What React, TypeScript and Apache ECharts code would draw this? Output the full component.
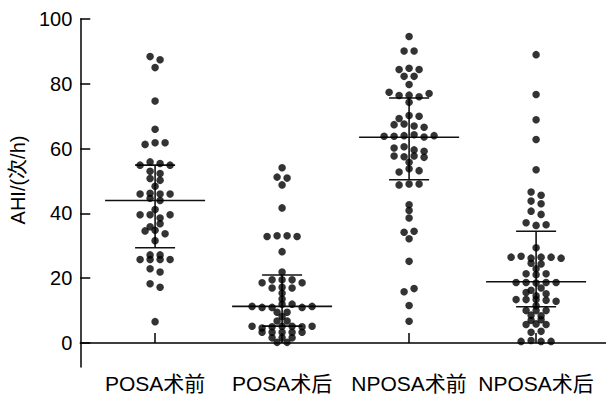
import React, { useEffect, useRef } from "react";
import * as echarts from "echarts";

const categories = ["POSA术前", "POSA术后", "NPOSA术前", "NPOSA术后"];

const posaPre = [88.4, 87.4, 85.0, 74.7, 66.0, 61.3, 61.8, 61.8, 54.9, 55.9, 55.4, 54.9, 53.0, 52.3, 50.8, 50.2, 48.4, 46.0, 46.2, 46.0, 46.0, 44.7, 44.0, 41.2, 39.6, 39.6, 38.6, 39.6, 35.9, 36.8, 34.6, 34.8, 33.7, 31.6, 27.2, 27.2, 25.8, 25.8, 25.8, 25.8, 22.9, 21.9, 18.3, 17.2, 6.6];
const posaPost = [54.1, 51.2, 50.9, 48.8, 41.7, 32.9, 33.1, 33.1, 32.9, 28.2, 21.9, 18.6, 19.5, 19.5, 19.5, 18.6, 17.0, 17.2, 17.0, 15.4, 13.6, 11.3, 11.0, 11.0, 12.0, 12.0, 11.0, 11.3, 9.5, 9.5, 8.2, 6.8, 6.8, 5.2, 4.6, 5.0, 5.2, 5.2, 5.0, 5.2, 3.3, 3.3, 3.3, 3.3, 3.3, 1.6, 1.6, 1.6, 0.2, 0.2];
const nposaPre = [94.6, 90.1, 90.1, 84.4, 84.8, 84.4, 82.3, 82.3, 79.8, 77.4, 76.4, 76.5, 76.0, 77.0, 74.3, 69.3, 70.2, 70.0, 67.4, 67.6, 67.0, 66.6, 63.8, 63.8, 64.0, 64.3, 63.6, 64.0, 60.2, 60.6, 59.6, 59.2, 57.7, 57.5, 57.7, 57.3, 55.8, 52.8, 53.8, 53.2, 48.8, 49.1, 49.1, 42.7, 40.9, 38.6, 34.2, 34.5, 32.2, 25.2, 15.8, 16.8, 11.6, 6.7];
const nposaPost = [89.0, 76.7, 68.9, 62.8, 53.5, 46.6, 45.6, 43.8, 43.0, 40.7, 39.7, 37.1, 36.3, 36.5, 29.4, 26.5, 26.8, 26.2, 26.5, 26.5, 26.2, 24.6, 24.4, 22.9, 21.4, 21.1, 21.4, 18.7, 18.7, 18.5, 18.7, 18.7, 16.3, 17.0, 15.6, 14.6, 15.2, 13.4, 13.4, 13.4, 13.2, 12.9, 11.5, 10.0, 10.0, 10.0, 8.6, 8.4, 7.0, 7.2, 5.7, 5.9, 5.7, 3.3, 3.6, 0.5, 0.8, 0.5, 0.5];

const groups = [posaPre, posaPost, nposaPre, nposaPost];
const q1s = [29.4, 5.2, 50.4, 11.2];
const medians = [44.0, 11.3, 63.5, 18.9];
const q3s = [54.9, 21.0, 75.6, 34.5];
const yTicks = [0, 20, 40, 60, 80, 100];

const FONT = "'Liberation Sans', Arial, 'Noto Sans CJK SC', sans-serif";

// Prism-like row layout: consecutive near-equal values share a row, centred
function layout(values: number[], catIndex: number, spacing: number) {
  const rows: number[][] = [];
  let cur: number[] = [];
  values.forEach((v, i) => {
    if (i > 0 && Math.abs(v - values[i - 1]) < 1.2) cur.push(v);
    else {
      if (cur.length) rows.push(cur);
      cur = [v];
    }
  });
  if (cur.length) rows.push(cur);
  const out: any[] = [];
  rows.forEach((r) => {
    r.forEach((v, i) => {
      out.push({ value: [catIndex + 1, v], symbolOffset: [(i - (r.length - 1) / 2) * spacing, 0] });
    });
  });
  return out;
}

export default function App() {
  const ref = useRef<HTMLDivElement>(null);
  useEffect(() => {
    document.body.style.margin = "0";
    const chart = echarts.init(ref.current!, null, { renderer: "svg" });
    const dots: any[] = [];
    groups.forEach((g, ci) => dots.push(...layout(g, ci, 10)));
    const stats = categories.map((_, i) => [i + 1, q1s[i], medians[i], q3s[i]]);
    chart.setOption({
      animation: false,
      grid: { left: 72, right: 0, top: 19, bottom: 27 },
      xAxis: {
        type: "value",
        min: 0.4109,
        max: 4.5504,
        splitLine: { show: false },
        axisLine: { show: true, lineStyle: { color: "#000", width: 1.5 } },
        axisTick: { show: true, inside: true, length: 10, customValues: [1, 2, 3, 4], lineStyle: { color: "#000", width: 1.5 } },
        axisLabel: {
          customValues: [1, 2, 3, 4],
          formatter: (v: number) => categories[Math.round(v) - 1],
          color: "#000",
          fontSize: 21,
          fontFamily: FONT,
          margin: 6,
        },
      },
      yAxis: {
        type: "value",
        min: -7.4,
        max: 100,
        name: "AHI/(次/h)",
        nameLocation: "middle",
        nameGap: 37,
        nameTextStyle: { color: "#000", fontSize: 20, fontFamily: FONT, padding: [0, 0, 0, 26] },
        splitLine: { show: false },
        axisLine: { show: true, lineStyle: { color: "#000", width: 1.5 } },
        axisTick: { show: true, inside: true, length: 10, customValues: yTicks, lineStyle: { color: "#000", width: 1.5 } },
        axisLabel: {
          customValues: yTicks,
          color: "#000",
          fontSize: 20,
          fontFamily: FONT,
          margin: 8,
        },
      },
      series: [
        {
          type: "custom",
          z: 1,
          data: stats,
          renderItem: (params: any, api: any) => {
            const x = api.value(0);
            const pQ1 = api.coord([x, api.value(1)]);
            const pMed = api.coord([x, api.value(2)]);
            const pQ3 = api.coord([x, api.value(3)]);
            const style = { stroke: "#111", lineWidth: 1.6 };
            return {
              type: "group",
              children: [
                { type: "line", shape: { x1: pMed[0] - 50, y1: pMed[1], x2: pMed[0] + 50, y2: pMed[1] }, style },
                { type: "line", shape: { x1: pQ1[0], y1: pQ1[1], x2: pQ3[0], y2: pQ3[1] }, style },
                { type: "line", shape: { x1: pQ1[0] - 20, y1: pQ1[1], x2: pQ1[0] + 20, y2: pQ1[1] }, style },
                { type: "line", shape: { x1: pQ3[0] - 20, y1: pQ3[1], x2: pQ3[0] + 20, y2: pQ3[1] }, style },
              ],
            };
          },
        },
        {
          type: "scatter",
          z: 2,
          symbol: "circle",
          symbolSize: 7.5,
          itemStyle: { color: "#000" },
          data: dots,
        },
      ],
    });
    return () => chart.dispose();
  }, []);
  return <div ref={ref} style={{ width: 606, height: 394 }} />;
}
